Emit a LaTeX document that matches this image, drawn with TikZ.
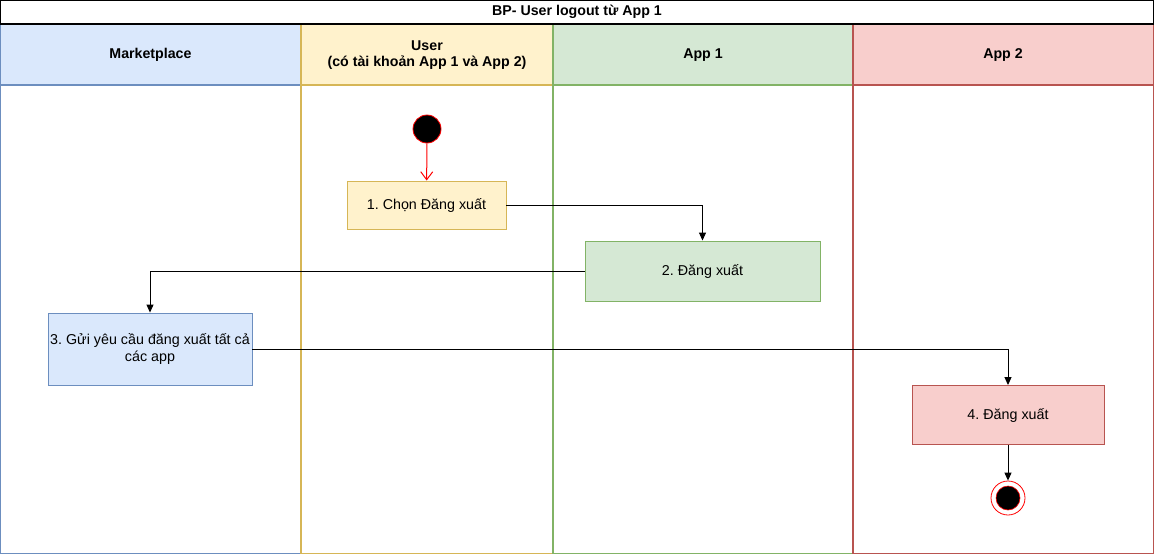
\documentclass[tikz,border=0pt]{standalone}
\usepackage{fontspec}
\setmainfont{Liberation Sans}
\usetikzlibrary{arrows.meta}
\definecolor{bluefill}{HTML}{DAE8FC}\definecolor{bluedraw}{HTML}{6C8EBF}
\definecolor{yelfill}{HTML}{FFF2CC}\definecolor{yeldraw}{HTML}{D6B656}
\definecolor{grnfill}{HTML}{D5E8D4}\definecolor{grndraw}{HTML}{82B366}
\definecolor{redfill}{HTML}{F8CECC}\definecolor{reddraw}{HTML}{B85450}
\definecolor{startred}{HTML}{FF0000}
\frenchspacing
\begin{document}
\begin{tikzpicture}[x=1pt,y=-1pt,
  lane/.style={line width=1.2pt},
  hdr/.style={font=\bfseries\fontsize{14.2}{16.5}\selectfont,align=center},
  act/.style={draw,line width=0.9pt,font=\fontsize{14.3}{16.5}\selectfont,align=center,inner sep=0pt},
  flow/.style={line width=1pt,-{Triangle[length=8pt,width=7pt]}},
]
\useasboundingbox (0,0) rectangle (1154,554);
% lanes
\filldraw[lane,fill=bluefill,draw=bluedraw] (0.6,24) rectangle (301,85);
\filldraw[lane,fill=yelfill,draw=yeldraw] (301,24) rectangle (553,85);
\filldraw[lane,fill=grnfill,draw=grndraw] (553,24) rectangle (853,85);
\filldraw[lane,fill=redfill,draw=reddraw] (853,24) rectangle (1153.4,85);
\draw[lane,draw=bluedraw] (301,85) -- (301,553.4) -- (0.6,553.4) -- (0.6,85);
\draw[lane,draw=yeldraw] (553,85) -- (553,553.4) -- (301,553.4) -- (301,85);
\draw[lane,draw=grndraw] (853,85) -- (853,553.4) -- (553,553.4) -- (553,85);
\draw[lane,draw=reddraw] (1153.4,85) -- (1153.4,553.4) -- (853,553.4) -- (853,85);
\draw[line width=1.2pt] (0.6,24) -- (0.6,0.6) -- (1153.4,0.6) -- (1153.4,24) -- cycle;
% headers
\node[hdr] (title) at (577,12) {BP- User logout từ App 1};
\node[hdr] (hm) at (150.5,55) {Marketplace};
\node[hdr] (hu) at (427,55) {User\\(có tài khoản App 1 và App 2)};
\node[hdr] (ha1) at (703,55) {App 1};
\node[hdr] (ha2) at (1003,55) {App 2};
% start
\node[circle,fill=black,draw=startred,line width=0.8pt,minimum size=28pt,inner sep=0pt] (start) at (427,129) {};
% activities
\node[act,fill=yelfill,draw=yeldraw,minimum width=159pt,minimum height=48pt] (a1) at (426.5,205) {1. Chọn Đăng xuất};
\node[act,fill=grnfill,draw=grndraw,minimum width=235pt,minimum height=60pt] (a2) at (702.5,271) {2. Đăng xuất};
\node[act,fill=bluefill,draw=bluedraw,minimum width=204pt,minimum height=72pt] (a3) at (150,349) {3. Gửi yêu cầu đăng xuất tất cả\\các app};
\node[act,fill=redfill,draw=reddraw,minimum width=192pt,minimum height=59pt] (a4) at (1008,415) {4. Đăng xuất};
% end
\node[circle,draw=startred,fill=white,line width=0.8pt,minimum size=34pt,inner sep=0pt] (end) at (1008,498) {};
\node[circle,fill=black,draw=startred,line width=0.6pt,minimum size=24pt,inner sep=0pt] (endin) at (end.center) {};
% connectors
\draw[startred,line width=1pt,-{Straight Barb[length=8pt,width=12pt]}] (start) -- (a1);
\draw[flow] (a1.east) -| (a2.north);
\draw[flow] (a2.west) -| (a3.north);
\draw[flow] (a3.east) -| (a4.north);
\draw[flow] (a4.south) -- (end.north);
\end{tikzpicture}
\end{document}
